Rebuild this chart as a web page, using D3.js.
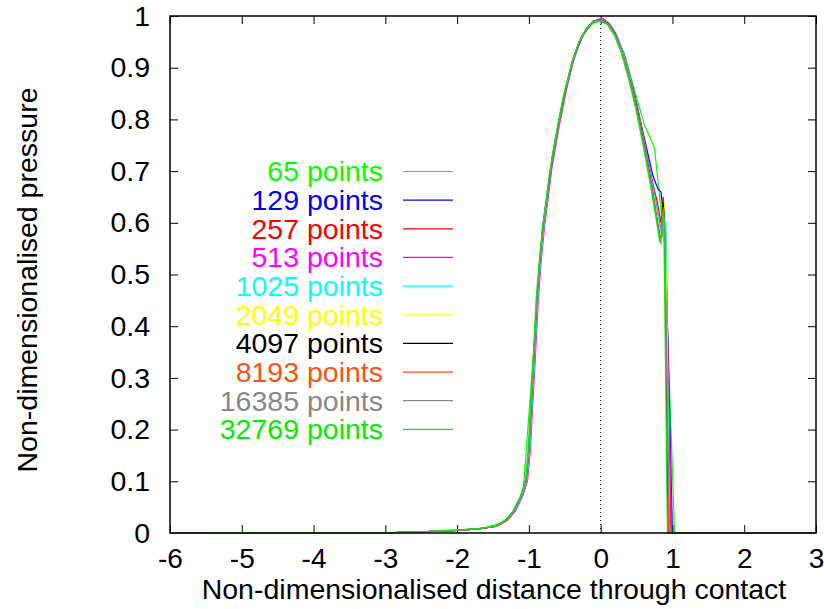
<!DOCTYPE html>
<html><head><meta charset="utf-8">
<script src="https://cdn.jsdelivr.net/npm/d3@7"></script>
<style>body{margin:0;background:#fff}svg{display:block}text{font-family:"Liberation Sans",Arial,sans-serif;}</style>
</head><body><svg id="c" width="824" height="609"></svg>
<script>
const xTicks = [-6,-5,-4,-3,-2,-1,0,1,2,3];
const yTicks = [0,0.1,0.2,0.3,0.4,0.5,0.6,0.7,0.8,0.9,1];
const seriesLabels = ["65 points","129 points","257 points","513 points","1025 points","2049 points","4097 points","8193 points","16385 points","32769 points"];
const seriesColors = ["#00ff00","#0000ff","#ff0000","#ff00ff","#00ffff","#ffff00","#000000","#ff5010","#888888","#00ee00"];

const s65 = [[-6,0],[-3.05,0.0005],[-2.48,0.002],[-2.06,0.005],[-1.64,0.009],[-1.36,0.02],[-1.22,0.04],[-1.08,0.08],[-0.94,0.34],[-0.8,0.6],[-0.656,0.745],[-0.516,0.848],[-0.375,0.922],[-0.234,0.966],[-0.094,0.988],[0.047,0.99],[0.1875,0.97],[0.328,0.928],[0.469,0.858],[0.609,0.79],[0.75,0.745],[0.89,0.56],[1.03,0],[3,0]];
const s129 = [[-6,0],[-3,0.0005],[-2.5,0.002],[-2,0.005],[-1.7,0.008],[-1.45,0.013],[-1.3,0.025],[-1.2,0.042],[-1.09,0.075],[-1.02,0.12],[-0.95,0.3],[-0.88,0.47],[-0.81,0.59],[-0.67,0.73],[-0.53,0.835],[-0.39,0.915],[-0.25,0.962],[-0.11,0.99],[0.03,0.995],[0.17,0.975],[0.31,0.93],[0.45,0.86],[0.59,0.775],[0.73,0.69],[0.8,0.665],[0.84,0.66],[0.87,0.62],[0.9,0.58],[1.0,0],[3,0]];
const s257 = [[-6,0],[-3,0.0005],[-2.5,0.002],[-2,0.005],[-1.7,0.008],[-1.45,0.013],[-1.3,0.025],[-1.2,0.042],[-1.1,0.07],[-1.03,0.1],[-0.99,0.16],[-0.96,0.24],[-0.92,0.34],[-0.88,0.45],[-0.84,0.525],[-0.79,0.595],[-0.69,0.705],[-0.59,0.785],[-0.49,0.855],[-0.39,0.912],[-0.29,0.953],[-0.19,0.977],[-0.09,0.99],[0.01,0.995],[0.11,0.986],[0.21,0.965],[0.31,0.93],[0.41,0.88],[0.51,0.823],[0.61,0.755],[0.71,0.685],[0.79,0.64],[0.84,0.6],[0.87,0.65],[0.9,0.61],[0.98,0],[3,0]];
const s513 = [[-6,0],[-3,0.0005],[-2.5,0.002],[-2,0.005],[-1.7,0.008],[-1.45,0.013],[-1.29,0.025],[-1.19,0.042],[-1.09,0.07],[-1.02,0.1],[-0.98,0.16],[-0.95,0.24],[-0.91,0.34],[-0.87,0.45],[-0.83,0.525],[-0.78,0.595],[-0.68,0.705],[-0.58,0.785],[-0.48,0.855],[-0.38,0.912],[-0.28,0.953],[-0.18,0.977],[-0.08,0.99],[0.02,0.996],[0.12,0.986],[0.22,0.964],[0.32,0.928],[0.42,0.878],[0.52,0.82],[0.62,0.75],[0.72,0.68],[0.79,0.625],[0.84,0.585],[0.87,0.63],[0.9,0.6],[0.99,0],[3,0]];
const s1025 = [[-6,0],[-3,0.0005],[-2.5,0.002],[-2,0.005],[-1.7,0.008],[-1.45,0.013],[-1.3,0.025],[-1.2,0.042],[-1.1,0.07],[-1.03,0.1],[-0.99,0.16],[-0.96,0.24],[-0.92,0.34],[-0.88,0.45],[-0.84,0.525],[-0.79,0.595],[-0.69,0.705],[-0.59,0.785],[-0.49,0.855],[-0.39,0.912],[-0.29,0.953],[-0.19,0.977],[-0.09,0.99],[0.01,0.994],[0.11,0.986],[0.21,0.964],[0.31,0.93],[0.41,0.88],[0.51,0.82],[0.61,0.752],[0.71,0.68],[0.79,0.62],[0.84,0.58],[0.86,0.6],[0.88,0.64],[0.91,0.6],[0.96,0],[3,0]];
const s2049 = [[-6,0],[-3,0.0005],[-2.5,0.002],[-2,0.005],[-1.7,0.008],[-1.45,0.013],[-1.31,0.025],[-1.21,0.042],[-1.11,0.07],[-1.04,0.1],[-1.0,0.16],[-0.97,0.24],[-0.93,0.34],[-0.89,0.45],[-0.85,0.525],[-0.8,0.595],[-0.7,0.703],[-0.6,0.783],[-0.5,0.853],[-0.4,0.91],[-0.3,0.952],[-0.2,0.976],[-0.1,0.99],[0,0.993],[0.1,0.986],[0.2,0.965],[0.3,0.93],[0.4,0.88],[0.5,0.823],[0.6,0.755],[0.7,0.68],[0.78,0.615],[0.83,0.575],[0.86,0.58],[0.88,0.64],[0.9,0.62],[0.95,0],[3,0]];
const s4097 = [[-6,0],[-3,0.0005],[-2.5,0.002],[-2,0.005],[-1.7,0.008],[-1.45,0.013],[-1.31,0.025],[-1.21,0.042],[-1.11,0.07],[-1.04,0.1],[-1.0,0.16],[-0.97,0.24],[-0.93,0.34],[-0.89,0.45],[-0.85,0.525],[-0.8,0.595],[-0.7,0.7],[-0.6,0.78],[-0.5,0.85],[-0.4,0.91],[-0.3,0.95],[-0.2,0.975],[-0.1,0.99],[0,0.993],[0.1,0.986],[0.2,0.965],[0.3,0.93],[0.4,0.88],[0.5,0.825],[0.6,0.755],[0.7,0.68],[0.78,0.61],[0.83,0.57],[0.85,0.575],[0.87,0.64],[0.89,0.6],[0.94,0],[3,0]];
const s8193 = [[-6,0],[-3,0.0005],[-2.5,0.002],[-2,0.005],[-1.7,0.008],[-1.45,0.013],[-1.31,0.025],[-1.21,0.042],[-1.11,0.07],[-1.04,0.1],[-1.0,0.16],[-0.97,0.24],[-0.93,0.34],[-0.89,0.45],[-0.85,0.525],[-0.8,0.595],[-0.7,0.7],[-0.6,0.78],[-0.5,0.85],[-0.4,0.91],[-0.3,0.95],[-0.2,0.975],[-0.1,0.99],[0,0.992],[0.1,0.985],[0.2,0.964],[0.3,0.929],[0.4,0.879],[0.5,0.823],[0.6,0.753],[0.7,0.678],[0.78,0.608],[0.83,0.568],[0.85,0.572],[0.87,0.63],[0.89,0.6],[0.95,0],[3,0]];
const s16385 = [[-6,0],[-3,0.0005],[-2.5,0.002],[-2,0.005],[-1.7,0.008],[-1.45,0.013],[-1.31,0.025],[-1.21,0.042],[-1.11,0.07],[-1.04,0.1],[-1.0,0.16],[-0.97,0.24],[-0.93,0.34],[-0.89,0.45],[-0.85,0.525],[-0.8,0.595],[-0.7,0.701],[-0.6,0.781],[-0.5,0.851],[-0.4,0.91],[-0.3,0.95],[-0.2,0.975],[-0.1,0.99],[0,0.992],[0.1,0.985],[0.2,0.964],[0.3,0.929],[0.4,0.879],[0.5,0.822],[0.6,0.752],[0.7,0.677],[0.78,0.607],[0.83,0.567],[0.85,0.57],[0.87,0.625],[0.89,0.6],[0.96,0],[3,0]];
const s32769 = [[-6,0],[-3,0.0005],[-2.5,0.002],[-2,0.006],[-1.7,0.009],[-1.46,0.014],[-1.32,0.026],[-1.22,0.043],[-1.12,0.071],[-1.05,0.1],[-1.01,0.16],[-0.98,0.24],[-0.94,0.34],[-0.9,0.45],[-0.86,0.52],[-0.81,0.59],[-0.71,0.7],[-0.61,0.78],[-0.51,0.85],[-0.41,0.905],[-0.31,0.947],[-0.21,0.973],[-0.11,0.987],[-0.01,0.99],[0.09,0.984],[0.19,0.963],[0.29,0.928],[0.39,0.878],[0.49,0.82],[0.59,0.75],[0.69,0.675],[0.77,0.61],[0.82,0.565],[0.84,0.56],[0.86,0.62],[0.88,0.6],[0.93,0],[3,0]];
const seriesData = [s65,s129,s257,s513,s1025,s2049,s4097,s8193,s16385,s32769];

const L=170, R=816, T=16, B=533;
const svg = d3.select("#c");
const x = d3.scaleLinear().domain([-6,3]).range([L,R]);
const y = d3.scaleLinear().domain([0,1]).range([B,T]);
const FS = 28.5;

const tl = 8;
const g = svg.append("g");
g.append("g").attr("transform",`translate(0,${B})`).call(d3.axisBottom(x).tickValues(xTicks).tickSize(-tl).tickFormat(d=>String(d)).tickPadding(15))
  .call(a=>{a.select(".domain").remove();a.selectAll("text").attr("font-size",28).attr("fill","#000").attr("dy","0.71em");});
g.append("g").attr("transform",`translate(0,${T})`).call(d3.axisTop(x).tickValues(xTicks).tickSize(-tl).tickFormat(""))
  .call(a=>a.select(".domain").remove());
g.append("g").attr("transform",`translate(${L},0)`).call(d3.axisLeft(y).tickValues(yTicks).tickSize(-tl).tickFormat(d=>String(d)).tickPadding(20))
  .call(a=>{a.select(".domain").remove();a.selectAll("text").attr("font-size",FS).attr("fill","#000");});
g.append("g").attr("transform",`translate(${R},0)`).call(d3.axisRight(y).tickValues(yTicks).tickSize(-tl).tickFormat(""))
  .call(a=>a.select(".domain").remove());
g.selectAll(".tick line").attr("stroke","#000").attr("stroke-width",1);

svg.append("line").attr("x1",x(0)).attr("x2",x(0)).attr("y1",y(0)).attr("y2",y(1))
  .attr("stroke","#000").attr("stroke-width",1).attr("stroke-dasharray","1,3");

const line = d3.line().x(d=>x(d[0])).y(d=>y(d[1]));
seriesData.forEach((d,i)=>{
  svg.append("path").attr("d",line(d)).attr("fill","none").attr("stroke",seriesColors[i]).attr("stroke-width",1.2);
});

svg.append("rect").attr("x",L).attr("y",T).attr("width",R-L).attr("height",B-T)
  .attr("fill","none").attr("stroke","#000").attr("stroke-width",1.5);

const legY0 = 171.5, legDy = 28.65;
seriesLabels.forEach((lab,i)=>{
  const yy = legY0 + i*legDy;
  svg.append("text").attr("x",383).attr("y",yy).attr("dy","0.35em").attr("text-anchor","end")
    .attr("font-size",FS).attr("fill",seriesColors[i]).text(lab);
  svg.append("line").attr("x1",403).attr("x2",453).attr("y1",yy).attr("y2",yy)
    .attr("stroke",seriesColors[i]).attr("stroke-width",1.2);
});

svg.append("text").attr("x",494).attr("y",599).attr("text-anchor","middle").attr("font-size",FS).text("Non-dimensionalised distance through contact");
svg.append("text").attr("transform","translate(37,280) rotate(-90)").attr("text-anchor","middle").attr("font-size",FS).text("Non-dimensionalised pressure");
</script></body></html>
